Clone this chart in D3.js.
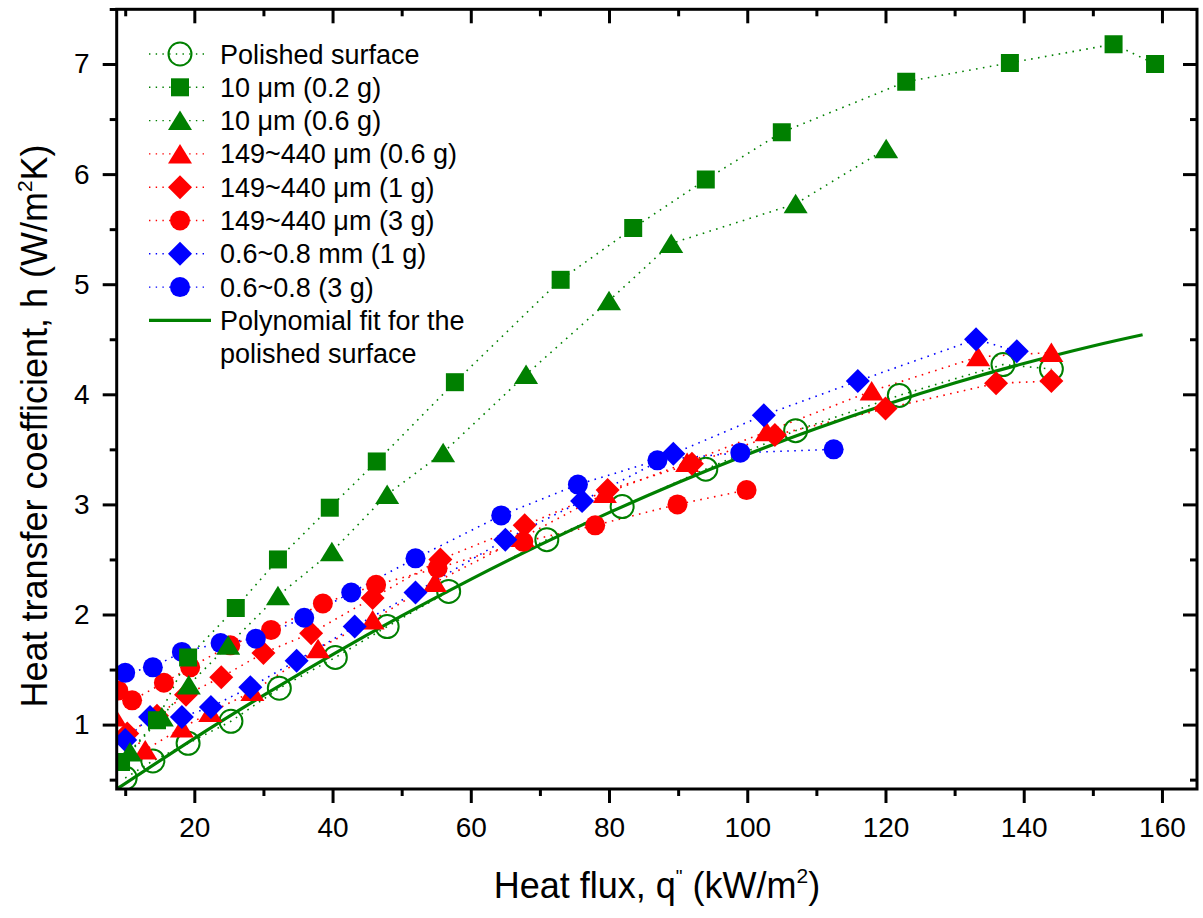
<!DOCTYPE html>
<html>
<head>
<meta charset="utf-8">
<script src="https://cdnjs.cloudflare.com/ajax/libs/d3/7.8.5/d3.min.js"></script>
<style>
  body { margin: 0; background: #fff; }
  svg { display: block; }
  text { font-family: "Liberation Sans", Arial, sans-serif; fill: #000; }
</style>
</head>
<body>
<svg id="chart"></svg>
<script>
// Data: [heat flux kW/m2, h]
const polished = [[10.0, 0.515], [14.0, 0.67], [19.1, 0.83], [25.3, 1.03], [32.3, 1.33], [40.4, 1.61], [47.9, 1.89], [56.8, 2.21], [71.0, 2.68], [81.9, 2.98], [94.0, 3.32], [107.0, 3.67], [122.0, 3.99], [137.0, 4.27], [144.0, 4.23]];
const um10g02 = [[9.4, 0.66], [14.6, 1.04], [19.1, 1.61], [26.0, 2.06], [32.1, 2.5], [39.6, 2.97], [46.4, 3.39], [57.7, 4.11], [73.0, 5.04], [83.5, 5.51], [94.0, 5.95], [105.0, 6.38], [123.0, 6.84], [138.0, 7.01], [153.0, 7.18], [159.0, 7.0]];
const um10g06 = [[10.7, 0.75], [15.3, 1.07], [19.2, 1.36], [24.9, 1.72], [32.1, 2.17], [39.9, 2.57], [47.9, 3.09], [56.0, 3.47], [68.0, 4.18], [80.0, 4.85], [89.0, 5.37], [107.0, 5.73], [120.1, 6.23]];
const redG06 = [[8.5, 1.07], [12.9, 0.77], [18.2, 0.97], [22.3, 1.11], [28.4, 1.3], [37.9, 1.69], [45.8, 1.95], [54.8, 2.29], [67.5, 2.7], [79.4, 3.1], [91.3, 3.38], [102.8, 3.66], [118.0, 4.03], [133.4, 4.34], [144.0, 4.38]];
const redG1 = [[10.3, 0.92], [14.6, 1.08], [18.8, 1.27], [23.9, 1.43], [30.0, 1.65], [36.9, 1.83], [45.8, 2.15], [55.6, 2.5], [67.8, 2.81], [79.8, 3.13], [92.0, 3.37], [104.0, 3.63], [120.0, 3.87], [136.0, 4.1], [144.0, 4.12]];
const redG3 = [[9.0, 1.31], [11.0, 1.22], [15.6, 1.38], [19.4, 1.52], [25.2, 1.72], [31.1, 1.86], [38.6, 2.1], [46.3, 2.27], [55.2, 2.42], [67.6, 2.66], [78.0, 2.81], [89.9, 3.0], [99.9, 3.13]];
const blueG1 = [[10.0, 0.86], [13.6, 1.07], [18.2, 1.07], [22.4, 1.16], [28.1, 1.34], [34.8, 1.58], [43.2, 1.89], [52.0, 2.2], [65.0, 2.68], [76.1, 3.03], [89.3, 3.46], [102.4, 3.81], [116.0, 4.12], [133.1, 4.5], [139.0, 4.39]];
const blueG3 = [[10.0, 1.47], [14.0, 1.52], [18.2, 1.66], [23.8, 1.74], [28.9, 1.78], [35.9, 1.97], [42.7, 2.2], [52.0, 2.51], [64.4, 2.9], [75.5, 3.18], [87.0, 3.4], [99.0, 3.47], [112.5, 3.5]];
const polyFit = [[8.8, 0.415], [20, 0.875], [30, 1.265], [40, 1.636], [50, 1.987], [60, 2.319], [70, 2.632], [80, 2.925], [90, 3.199], [100, 3.454], [110, 3.69], [120, 3.906], [130, 4.103], [140, 4.28], [150, 4.439], [157.2, 4.541]];

const xTicks = [20, 40, 60, 80, 100, 120, 140, 160];
const xMinor = [10, 30, 50, 70, 90, 110, 130, 150];
const yTicks = [1, 2, 3, 4, 5, 6, 7];
const yMinor = [0.5, 1.5, 2.5, 3.5, 4.5, 5.5, 6.5, 7.5];

const GREEN = "#008000", RED = "#ff0000", BLUE = "#0000ff";

const series = [
  { name: "Polished surface", data: polished, color: GREEN, shape: "circle", open: true },
  { name: "10 \u03bcm (0.2 g)", data: um10g02, color: GREEN, shape: "square" },
  { name: "10 \u03bcm (0.6 g)", data: um10g06, color: GREEN, shape: "triangle" },
  { name: "149~440 \u03bcm (0.6 g)", data: redG06, color: RED, shape: "triangle" },
  { name: "149~440 \u03bcm (1 g)", data: redG1, color: RED, shape: "diamond" },
  { name: "149~440 \u03bcm (3 g)", data: redG3, color: RED, shape: "circle" },
  { name: "0.6~0.8 mm (1 g)", data: blueG1, color: BLUE, shape: "diamond" },
  { name: "0.6~0.8 (3 g)", data: blueG3, color: BLUE, shape: "circle" },
];
// drawing order (bottom to top)
const drawOrder = [0, 3, 4, 5, 6, 7, 2, 1];

const width = 1203, height = 918;
const plot = { left: 116.7, right: 1197, top: 9.3, bottom: 789 };

const svg = d3.select("#chart").attr("width", width).attr("height", height);

const x = d3.scaleLinear().domain([8.77, 165.07]).range([plot.left, plot.right]);
const y = d3.scaleLinear().domain([0.415, 7.497]).range([plot.bottom, plot.top]);

svg.append("defs").append("clipPath").attr("id", "clip")
  .append("rect")
  .attr("x", plot.left).attr("y", plot.top)
  .attr("width", plot.right - plot.left).attr("height", plot.bottom - plot.top);

function markerPath(shape) {
  if (shape === "square") { const s = 9; return `M${-s},${-s}H${s}V${s}H${-s}Z`; }
  if (shape === "triangle") { return "M0,-10L12,9.5L-12,9.5Z"; }
  if (shape === "diamond") { const s = 12; return `M0,${-s}L${s},0L0,${s}L${-s},0Z`; }
  return null;
}

function drawMarker(g, shape, color, open) {
  if (shape === "circle") {
    if (open) {
      g.append("circle").attr("r", 11.5).attr("fill", "none")
        .attr("stroke", color).attr("stroke-width", 2);
    } else {
      g.append("circle").attr("r", 10).attr("fill", color);
    }
  } else {
    g.append("path").attr("d", markerPath(shape)).attr("fill", color);
  }
}

const dataG = svg.append("g").attr("clip-path", "url(#clip)");
const line = d3.line().x((d) => x(d[0])).y((d) => y(d[1]));

// dotted connecting lines
drawOrder.forEach((i) => {
  const s = series[i];
  dataG.append("path").datum(s.data)
    .attr("d", line)
    .attr("fill", "none")
    .attr("stroke", s.color)
    .attr("stroke-width", 1.6)
    .attr("stroke-dasharray", "1.6 5.4");
});

// markers
drawOrder.forEach((i, k) => {
  const s = series[i];
  const grp = dataG.append("g");
  s.data.forEach((d) => {
    const m = grp.append("g").attr("transform", `translate(${x(d[0])},${y(d[1])})`);
    drawMarker(m, s.shape, s.color, s.open);
  });
  if (k === 0) {
    // polynomial fit sits above the polished surface points
    dataG.append("path").datum(polyFit)
      .attr("d", line.curve(d3.curveNatural))
      .attr("fill", "none")
      .attr("stroke", GREEN)
      .attr("stroke-width", 3.2);
    line.curve(d3.curveLinear);
  }
});

// Axes
function styleAxis(g) {
  g.select(".domain").remove();
  g.selectAll(".tick line").attr("stroke", "#000").attr("stroke-width", 3);
  g.selectAll(".tick text").style("font-size", "28px").attr("fill", "#000");
}

svg.append("g").attr("transform", `translate(0,${plot.bottom})`)
  .call(d3.axisBottom(x).tickValues(xTicks).tickSize(14).tickPadding(14))
  .call(styleAxis);
svg.append("g").attr("transform", `translate(0,${plot.bottom})`)
  .call(d3.axisBottom(x).tickValues(xMinor).tickSize(7).tickFormat(""))
  .call(styleAxis);
svg.append("g").attr("transform", `translate(0,${plot.top})`)
  .call(d3.axisTop(x).tickValues(xTicks).tickSize(-14).tickFormat(""))
  .call(styleAxis);
svg.append("g").attr("transform", `translate(0,${plot.top})`)
  .call(d3.axisTop(x).tickValues(xMinor).tickSize(-7).tickFormat(""))
  .call(styleAxis);

svg.append("g").attr("transform", `translate(${plot.left},0)`)
  .call(d3.axisLeft(y).tickValues(yTicks).tickSize(14).tickPadding(13))
  .call(styleAxis);
svg.append("g").attr("transform", `translate(${plot.left},0)`)
  .call(d3.axisLeft(y).tickValues(yMinor).tickSize(7).tickFormat(""))
  .call(styleAxis);
svg.append("g").attr("transform", `translate(${plot.right},0)`)
  .call(d3.axisRight(y).tickValues(yTicks).tickSize(-14).tickFormat(""))
  .call(styleAxis);
svg.append("g").attr("transform", `translate(${plot.right},0)`)
  .call(d3.axisRight(y).tickValues(yMinor).tickSize(-7).tickFormat(""))
  .call(styleAxis);

// frame
svg.append("rect")
  .attr("x", plot.left).attr("y", plot.top)
  .attr("width", plot.right - plot.left).attr("height", plot.bottom - plot.top)
  .attr("fill", "none").attr("stroke", "#000").attr("stroke-width", 3);

// Axis titles
const xTitle = svg.append("text")
  .attr("x", 657).attr("y", 898)
  .attr("text-anchor", "middle").style("font-size", "36px");
xTitle.append("tspan").text("Heat flux, q");
xTitle.append("tspan").attr("dy", -15).style("font-size", "19px").text("\"");
xTitle.append("tspan").attr("dy", 15).text(" (kW/m");
xTitle.append("tspan").attr("dy", -15).style("font-size", "21px").text("2");
xTitle.append("tspan").attr("dy", 15).text(")");

const yTitle = svg.append("text")
  .attr("transform", "translate(47,426) rotate(-90)")
  .attr("text-anchor", "middle").style("font-size", "36px");
yTitle.append("tspan").text("Heat transfer coefficient, h (W/m");
yTitle.append("tspan").attr("dy", -15).style("font-size", "21px").text("2");
yTitle.append("tspan").attr("dy", 15).text("K)");

// Legend
const legend = svg.append("g");
const rowH = 33.3, row0 = 54;
series.forEach((s, i) => {
  const cy = row0 + i * rowH;
  const r = legend.append("g").attr("transform", `translate(0,${cy})`);
  r.append("line").attr("x1", 149).attr("x2", 209).attr("y1", 0).attr("y2", 0)
    .attr("stroke", s.color).attr("stroke-width", 1.4).attr("stroke-dasharray", "1.4 5.3");
  const m = r.append("g").attr("transform", "translate(180,0)");
  drawMarker(m, s.shape, s.color, s.open);
  r.append("text").attr("x", 220).attr("y", 9.5).style("font-size", "27px").text(s.name);
});
const fitRow = legend.append("g").attr("transform", `translate(0,${row0 + 8 * rowH})`);
fitRow.append("line").attr("x1", 149).attr("x2", 211).attr("y1", 0).attr("y2", 0)
  .attr("stroke", GREEN).attr("stroke-width", 3.2);
fitRow.append("text").attr("x", 220).attr("y", 9.5).style("font-size", "27px").text("Polynomial fit for the");
fitRow.append("text").attr("x", 220).attr("y", 9.5 + rowH).style("font-size", "27px").text("polished surface");
</script>
</body>
</html>
